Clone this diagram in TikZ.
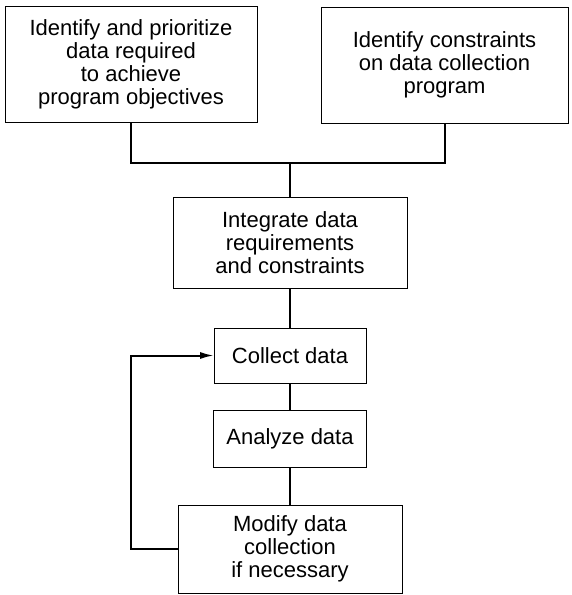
\documentclass[tikz,border=0pt]{standalone}
\usepackage{fontspec}
\setmainfont{Liberation Sans}
\usetikzlibrary{arrows.meta, positioning}

\begin{document}
\begin{tikzpicture}[x=1pt, y=1pt, node distance=40pt, auto]
	% Styles
	\tikzstyle{box} = [draw, rectangle, line width=1pt, outer sep=0pt, align=center, inner sep=0pt, font=\fontsize{22}{23}\selectfont]
	\tikzstyle{line} = [line width=2pt]
	\tikzstyle{arrow} = [line width=2pt, -{Latex[length=14pt, width=7pt]}]

	\useasboundingbox (0,0) rectangle (571,-595);

	% Nodes
	\node (prioritize) [box, minimum width=252pt, minimum height=116pt] at (131,-64) {Identify and prioritize\\data required\\to achieve\\program objectives};
	\node (constraints) [box, minimum width=247pt, minimum height=116pt] at (444.5,-65) {Identify constraints\\on data collection\\program};
	\node (integrate) [box, minimum width=234pt, minimum height=91pt] at (290,-242.5) {Integrate data\\requirements\\and constraints};
	\node (collect) [box, minimum width=152pt, minimum height=55pt, below=40pt of integrate] {Collect data};
	\node (analyze) [box, minimum width=153pt, minimum height=57pt, below=27pt of collect] {Analyze data};
	\node (modify) [box, minimum width=224pt, minimum height=88pt, below=38pt of analyze] {Modify data\\collection\\if necessary};
	\coordinate (join) at (290,-163);
	\coordinate (corner) at (131,-357);

	% Connections
	\draw [line] (prioritize.south) |- (join) -| (constraints.south);
	\draw [line] (join) -- (integrate);
	\draw [line] (integrate) -- (collect);
	\draw [line] (collect) -- (analyze);
	\draw [line] (analyze) -- (modify);
	\draw [arrow] (modify.west) -| (corner) |- (collect.west);

\end{tikzpicture}
\end{document}
